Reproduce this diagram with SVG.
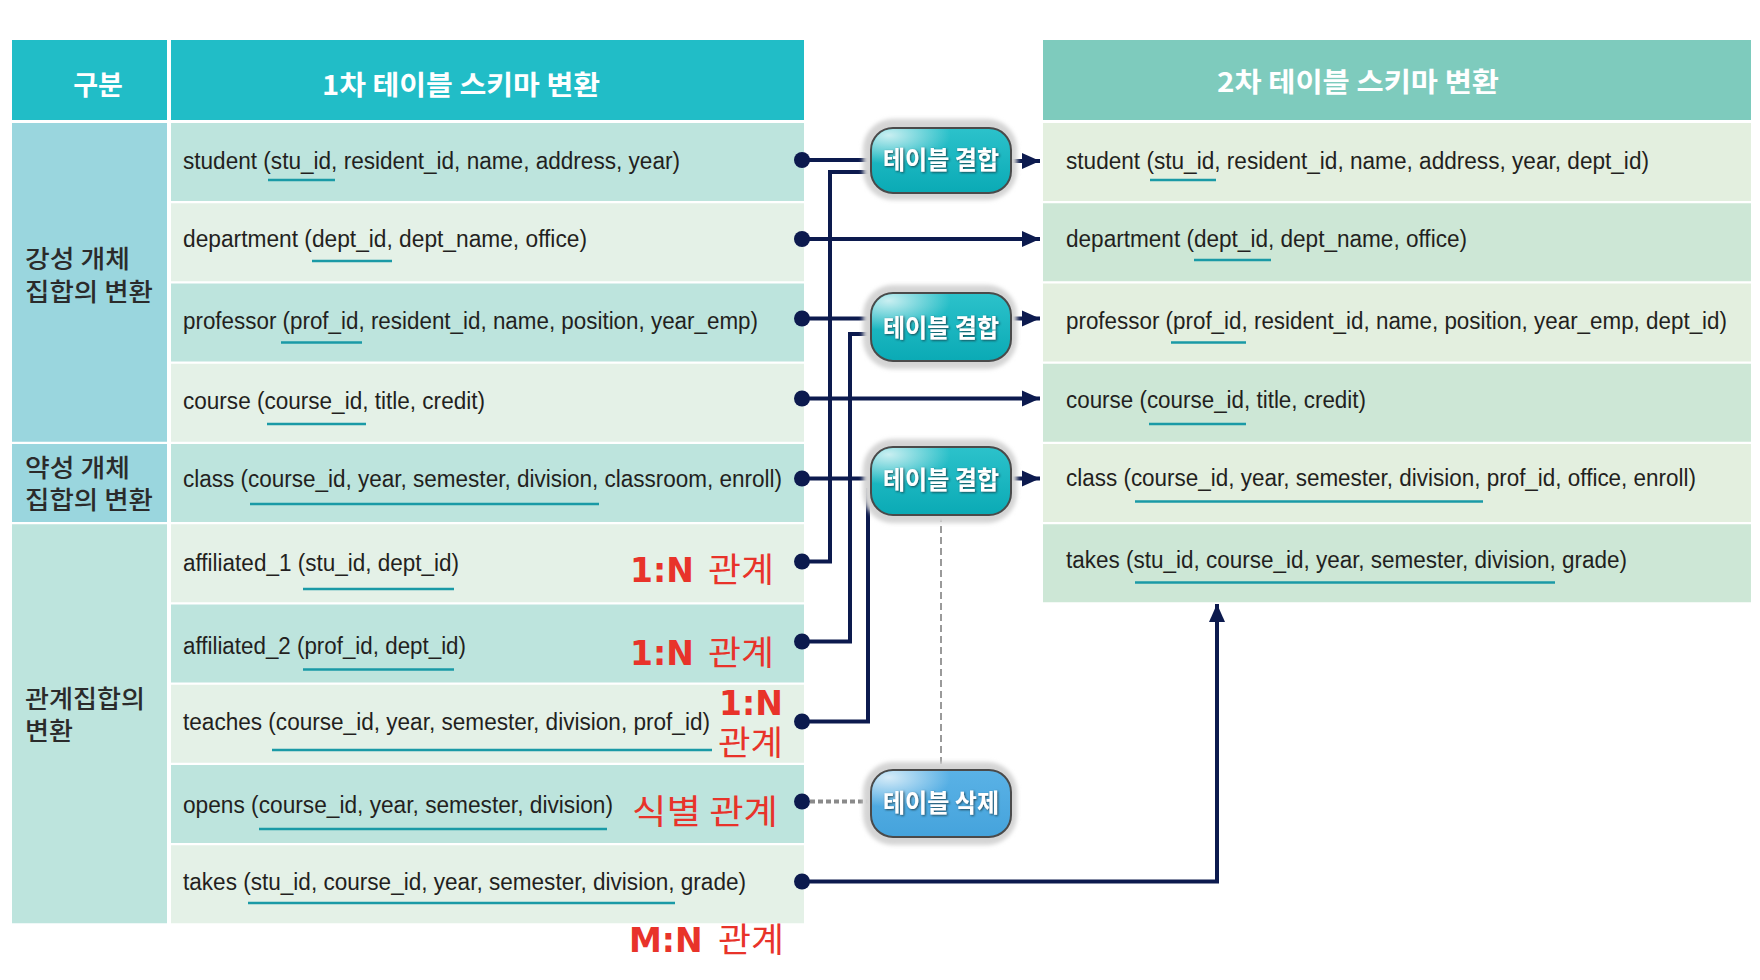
<svg xmlns="http://www.w3.org/2000/svg" width="1760" height="980" viewBox="0 0 1760 980">
<style>
.hd{fill:#21bdc7}
.hd2{fill:#7ecbbd}
.cat1{fill:#9ad6de}
.cat2{fill:#bde4dd}
.ld{fill:#bde4dd}
.ll{fill:#e4f1e7}
.rl{fill:#e3efdf}
.rd{fill:#cde7d6}
.t{font-family:"Liberation Sans",Arial,sans-serif;font-size:23px;fill:#231f20}
.ul{stroke:#1a9aa6;stroke-width:2.5}
.cat{font-family:"Noto Sans CJK KR",sans-serif;font-size:25px;fill:#2b2b2b;font-weight:500}
.hdr{font-family:"Noto Sans CJK KR",sans-serif;font-size:27px;font-weight:700;fill:#ffffff}
.lat{font-family:"DejaVu Sans",sans-serif;font-weight:700;font-size:33px;fill:#e8332a}
.kor{font-family:"Noto Sans CJK KR",sans-serif;font-weight:400;font-size:34px;fill:#e8332a}
.conn{stroke:#0c1a4e;stroke-width:4;fill:none}
.dot{fill:#0c1a4e}
.halo{fill:#d4d4d4;filter:url(#blur)}
.body{stroke:#4a4a4a;stroke-width:2}
.btxt{font-family:"Noto Sans CJK KR",sans-serif;font-size:25px;font-weight:700;fill:#ffffff;filter:url(#shadow)}
</style>
<defs>
<marker id="arr" markerUnits="userSpaceOnUse" markerWidth="20" markerHeight="18" refX="18" refY="9" orient="auto">
<path d="M0 1 L18 9 L0 17 Z" fill="#0c1a4e"/>
</marker>
<filter id="blur" x="-20%" y="-30%" width="140%" height="160%"><feGaussianBlur stdDeviation="2"/></filter>
<filter id="shadow" x="-10%" y="-20%" width="120%" height="150%"><feDropShadow dx="1" dy="1" stdDeviation="1" flood-color="#123640" flood-opacity="0.85"/></filter>
<linearGradient id="teal" x1="0" y1="0" x2="0" y2="1"><stop offset="0" stop-color="#2cc2cb"/><stop offset="1" stop-color="#0aaab5"/></linearGradient>
<linearGradient id="blue" x1="0" y1="0" x2="0" y2="1"><stop offset="0" stop-color="#5ab2e6"/><stop offset="1" stop-color="#45a3dc"/></linearGradient>
<radialGradient id="shine" cx="0.12" cy="0.1" r="0.45"><stop offset="0" stop-color="#ffffff" stop-opacity="0.75"/><stop offset="1" stop-color="#ffffff" stop-opacity="0"/></radialGradient>
</defs>

<g id="table1">
<rect class="hd" x="12" y="40" width="155" height="80"/>
<rect class="hd" x="171" y="40" width="633" height="80"/>
<text class="hdr" x="98" y="95" text-anchor="middle">구분</text>
<text class="hdr" x="461" y="95" text-anchor="middle" textLength="278" lengthAdjust="spacingAndGlyphs">1차 테이블 스키마 변환</text>
<rect class="cat1" x="12" y="123" width="155" height="318.75"/>
<rect class="cat1" x="12" y="444" width="155" height="78"/>
<rect class="cat2" x="12" y="524.25" width="155" height="399"/>
<text class="cat"><tspan x="25" y="268" textLength="105" lengthAdjust="spacingAndGlyphs">강성 개체</tspan><tspan x="25" y="301" textLength="128" lengthAdjust="spacingAndGlyphs">집합의 변환</tspan></text>
<text class="cat"><tspan x="25" y="477" textLength="105" lengthAdjust="spacingAndGlyphs">약성 개체</tspan><tspan x="25" y="509" textLength="128" lengthAdjust="spacingAndGlyphs">집합의 변환</tspan></text>
<text class="cat"><tspan x="25" y="708" textLength="120" lengthAdjust="spacingAndGlyphs">관계집합의</tspan><tspan x="25" y="740" textLength="48" lengthAdjust="spacingAndGlyphs">변환</tspan></text>
<rect class="ld" x="171" y="123" width="633" height="78"/>
<rect class="ll" x="171" y="203.25" width="633" height="78"/>
<rect class="ld" x="171" y="283.5" width="633" height="78"/>
<rect class="ll" x="171" y="363.75" width="633" height="78"/>
<rect class="ld" x="171" y="444" width="633" height="78"/>
<rect class="ll" x="171" y="524.25" width="633" height="78"/>
<rect class="ld" x="171" y="604.5" width="633" height="78"/>
<rect class="ll" x="171" y="684.75" width="633" height="78"/>
<rect class="ld" x="171" y="765" width="633" height="78"/>
<rect class="ll" x="171" y="845.25" width="633" height="78"/>
<text class="t" x="183" y="168.5" textLength="497" lengthAdjust="spacingAndGlyphs">student (stu_id, resident_id, name, address, year)</text>
<text class="t" x="183" y="247" textLength="404" lengthAdjust="spacingAndGlyphs">department (dept_id, dept_name, office)</text>
<text class="t" x="183" y="329" textLength="575" lengthAdjust="spacingAndGlyphs">professor (prof_id, resident_id, name, position, year_emp)</text>
<text class="t" x="183" y="409" textLength="302" lengthAdjust="spacingAndGlyphs">course (course_id, title, credit)</text>
<text class="t" x="183" y="487" textLength="599" lengthAdjust="spacingAndGlyphs">class (course_id, year, semester, division, classroom, enroll)</text>
<text class="t" x="183" y="571" textLength="276" lengthAdjust="spacingAndGlyphs">affiliated_1 (stu_id, dept_id)</text>
<text class="t" x="183" y="654" textLength="283" lengthAdjust="spacingAndGlyphs">affiliated_2 (prof_id, dept_id)</text>
<text class="t" x="183" y="730" textLength="527" lengthAdjust="spacingAndGlyphs">teaches (course_id, year, semester, division, prof_id)</text>
<text class="t" x="183" y="813" textLength="430" lengthAdjust="spacingAndGlyphs">opens (course_id, year, semester, division)</text>
<text class="t" x="183" y="890" textLength="563" lengthAdjust="spacingAndGlyphs">takes (stu_id, course_id, year, semester, division, grade)</text>
<line class="ul" x1="268" y1="180" x2="335" y2="180"/>
<line class="ul" x1="312" y1="261" x2="392" y2="261"/>
<line class="ul" x1="281" y1="342.5" x2="362" y2="342.5"/>
<line class="ul" x1="267" y1="424" x2="366" y2="424"/>
<line class="ul" x1="250" y1="504" x2="599" y2="504"/>
<line class="ul" x1="303" y1="589" x2="454" y2="589"/>
<line class="ul" x1="303" y1="669.5" x2="454" y2="669.5"/>
<line class="ul" x1="272" y1="750" x2="712" y2="750"/>
<line class="ul" x1="259" y1="829" x2="607" y2="829"/>
<line class="ul" x1="248" y1="903" x2="675" y2="903"/>
</g>

<g id="table2">
<rect class="hd2" x="1043" y="40" width="708" height="80"/>
<text class="hdr" x="1358" y="92" text-anchor="middle" textLength="282" lengthAdjust="spacingAndGlyphs">2차 테이블 스키마 변환</text>
<rect class="rl" x="1043" y="123" width="708" height="78"/>
<rect class="rd" x="1043" y="203.25" width="708" height="78"/>
<rect class="rl" x="1043" y="283.5" width="708" height="78"/>
<rect class="rd" x="1043" y="363.75" width="708" height="78"/>
<rect class="rl" x="1043" y="444" width="708" height="78"/>
<rect class="rd" x="1043" y="524.25" width="708" height="78"/>
<text class="t" x="1066" y="168.5" textLength="583" lengthAdjust="spacingAndGlyphs">student (stu_id, resident_id, name, address, year, dept_id)</text>
<text class="t" x="1066" y="247" textLength="401" lengthAdjust="spacingAndGlyphs">department (dept_id, dept_name, office)</text>
<text class="t" x="1066" y="328.5" textLength="661" lengthAdjust="spacingAndGlyphs">professor (prof_id, resident_id, name, position, year_emp, dept_id)</text>
<text class="t" x="1066" y="407.5" textLength="300" lengthAdjust="spacingAndGlyphs">course (course_id, title, credit)</text>
<text class="t" x="1066" y="486" textLength="630" lengthAdjust="spacingAndGlyphs">class (course_id, year, semester, division, prof_id, office, enroll)</text>
<text class="t" x="1066" y="567.5" textLength="561" lengthAdjust="spacingAndGlyphs">takes (stu_id, course_id, year, semester, division, grade)</text>
<line class="ul" x1="1150" y1="180" x2="1216" y2="180"/>
<line class="ul" x1="1194" y1="260" x2="1271" y2="260"/>
<line class="ul" x1="1171" y1="342.5" x2="1246" y2="342.5"/>
<line class="ul" x1="1149" y1="424" x2="1246" y2="424"/>
<line class="ul" x1="1135" y1="501.5" x2="1483" y2="501.5"/>
<line class="ul" x1="1135" y1="582.5" x2="1555" y2="582.5"/>
</g>

<g id="labels">
<text y="582"><tspan class="lat" x="630">1:N</tspan><tspan class="kor" x="708" textLength="66" lengthAdjust="spacingAndGlyphs">관계</tspan></text>
<text y="665"><tspan class="lat" x="630">1:N</tspan><tspan class="kor" x="708" textLength="66" lengthAdjust="spacingAndGlyphs">관계</tspan></text>
<text><tspan class="lat" x="719" y="715">1:N</tspan><tspan class="kor" x="718" y="755" textLength="65" lengthAdjust="spacingAndGlyphs">관계</tspan></text>
<text y="824"><tspan class="kor" x="632" textLength="146" lengthAdjust="spacingAndGlyphs">식별 관계</tspan></text>
<text y="952"><tspan class="lat" x="629">M:N</tspan><tspan class="kor" x="718" textLength="66" lengthAdjust="spacingAndGlyphs">관계</tspan></text>
</g>

<g id="connectors">
<path class="conn" d="M802 160 H872"/>
<path class="conn" d="M802 561.5 H830 V172 H872"/>
<path class="conn" d="M802 239 H1040" marker-end="url(#arr)"/>
<path class="conn" d="M802 318.5 H872"/>
<path class="conn" d="M802 641.5 H850 V334 H872"/>
<path class="conn" d="M802 398.5 H1040" marker-end="url(#arr)"/>
<path class="conn" d="M802 478.5 H872"/>
<path class="conn" d="M802 721.5 H868 V488"/>
<path class="conn" d="M1010 161 H1040" marker-end="url(#arr)"/>
<path class="conn" d="M1010 318.5 H1040" marker-end="url(#arr)"/>
<path class="conn" d="M1010 478.5 H1040" marker-end="url(#arr)"/>
<path class="conn" d="M802 881.5 H1217 V604" marker-end="url(#arr)"/>
<path d="M810 801.5 H872" fill="none" stroke="#8a8a8a" stroke-width="4" stroke-dasharray="5 3"/>
<path d="M941 515 V770" fill="none" stroke="#9a9a9a" stroke-width="2" stroke-dasharray="7 4"/>
<circle class="dot" cx="802" cy="160" r="8"/>
<circle class="dot" cx="802" cy="239" r="8"/>
<circle class="dot" cx="802" cy="318.5" r="8"/>
<circle class="dot" cx="802" cy="398.5" r="8"/>
<circle class="dot" cx="802" cy="478.5" r="8"/>
<circle class="dot" cx="802" cy="561.5" r="8"/>
<circle class="dot" cx="802" cy="641.5" r="8"/>
<circle class="dot" cx="802" cy="721.5" r="8"/>
<circle class="dot" cx="802" cy="801.5" r="8"/>
<circle class="dot" cx="802" cy="881.5" r="8"/>
</g>

<g id="btn-join-1">
<rect class="halo" x="863" y="119" width="154" height="81" rx="30"/>
<rect class="body" x="871" y="128" width="140" height="65" rx="22" fill="url(#teal)"/>
<rect x="872" y="129" width="138" height="63" rx="21" fill="url(#shine)"/>
<text class="btxt" x="941" y="169" text-anchor="middle" textLength="116" lengthAdjust="spacingAndGlyphs">테이블 결합</text>
</g>
<g id="btn-join-2">
<rect class="halo" x="863" y="285" width="154" height="84" rx="30"/>
<rect class="body" x="871" y="293" width="140" height="68" rx="22" fill="url(#teal)"/>
<rect x="872" y="294" width="138" height="66" rx="21" fill="url(#shine)"/>
<text class="btxt" x="941" y="337" text-anchor="middle" textLength="116" lengthAdjust="spacingAndGlyphs">테이블 결합</text>
</g>
<g id="btn-join-3">
<rect class="halo" x="863" y="439" width="154" height="84" rx="30"/>
<rect class="body" x="871" y="447" width="140" height="68" rx="22" fill="url(#teal)"/>
<rect x="872" y="448" width="138" height="66" rx="21" fill="url(#shine)"/>
<text class="btxt" x="941" y="489" text-anchor="middle" textLength="116" lengthAdjust="spacingAndGlyphs">테이블 결합</text>
</g>
<g id="btn-delete">
<rect class="halo" x="863" y="762" width="154" height="83" rx="30"/>
<rect class="body" x="871" y="770" width="140" height="67" rx="22" fill="url(#blue)"/>
<rect x="872" y="771" width="138" height="65" rx="21" fill="url(#shine)"/>
<text class="btxt" x="941" y="812" text-anchor="middle" textLength="116" lengthAdjust="spacingAndGlyphs">테이블 삭제</text>
</g>
</svg>
